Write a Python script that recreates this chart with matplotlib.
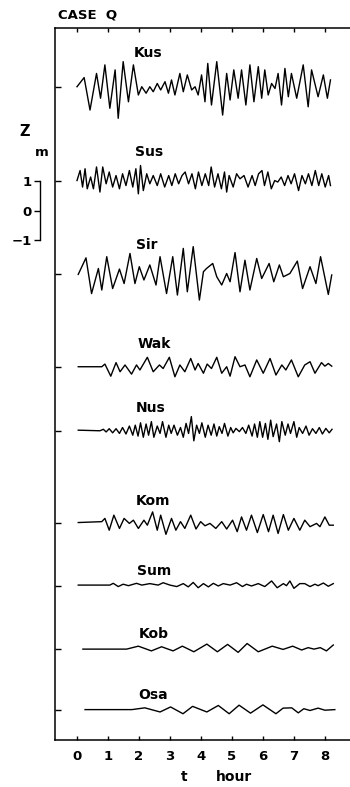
import numpy as np
import matplotlib
matplotlib.use("Agg")
import matplotlib.pyplot as plt

plt.rcParams['font.family'] = ['DejaVu Sans Condensed', 'Liberation Sans Narrow', 'DejaVu Sans']
plt.rcParams['font.weight'] = 'bold'

# ---------------- data (hours, metres) ----------------
stations = ["Kus", "Sus", "Sir", "Wak", "Nus", "Kom", "Sum", "Kob", "Osa"]
baselines = [4.20, 1.00, -2.14, -5.29, -7.46, -10.58, -12.71, -14.85, -16.90]
label_t = [2.29, 2.32, 2.26, 2.50, 2.39, 2.45, 2.48, 2.48, 2.45]
label_z = [5.35, 2.00, -1.15, -4.50, -6.68, -9.83, -12.20, -14.34, -16.40]

kus_t = [0.00,0.23,0.42,0.63,0.76,0.90,1.06,1.23,1.33,1.49,1.66,1.82,1.98,2.09,2.23,2.35,2.46,2.59,2.70,2.84,
         2.95,3.05,3.16,3.32,3.43,3.56,3.70,3.81,3.91,4.02,4.13,4.22,4.34,4.51,4.70,4.83,4.94,5.06,5.20,5.31,
         5.45,5.58,5.71,5.85,5.96,6.06,6.17,6.28,6.39,6.49,6.60,6.71,6.82,6.92,7.09,7.30,7.46,7.57,7.78,7.95,
         8.08,8.18]
kus_z = [0.01,0.32,-0.78,0.46,-0.38,0.75,-0.72,0.58,-1.06,0.86,-0.50,0.75,-0.27,0.01,-0.21,0.01,-0.16,0.12,-0.10,0.18,
         -0.21,0.24,-0.27,0.46,-0.16,0.41,-0.10,0.01,-0.27,0.41,-0.50,0.80,-0.61,0.86,-0.95,0.46,-0.44,0.58,-0.38,0.58,
         -0.61,0.75,-0.50,0.69,-0.38,0.58,-0.27,0.12,-0.05,0.46,-0.61,0.63,-0.33,0.46,-0.38,0.75,-0.67,0.58,-0.33,0.41,
         -0.38,0.24]

sus_t = [0.00,0.10,0.18,0.26,0.33,0.44,0.53,0.63,0.74,0.83,0.94,1.04,1.15,1.26,1.37,1.47,1.58,1.69,1.80,1.90,
         1.98,2.05,2.14,2.25,2.35,2.46,2.59,2.70,2.83,2.96,3.06,3.17,3.28,3.39,3.49,3.60,3.71,3.82,3.92,4.03,
         4.14,4.25,4.33,4.44,4.55,4.66,4.76,4.83,4.91,5.04,5.15,5.26,5.39,5.52,5.65,5.75,5.86,5.97,6.05,6.16,
         6.27,6.38,6.48,6.59,6.70,6.81,6.91,7.02,7.15,7.26,7.37,7.47,7.58,7.69,7.80,7.90,8.01,8.12,8.18]
sus_z = [0.03,0.37,-0.19,0.43,-0.25,0.15,-0.25,0.49,-0.36,0.49,-0.08,0.32,-0.19,0.20,-0.25,0.26,-0.14,0.37,-0.19,0.43,
         -0.42,0.54,-0.31,0.26,-0.08,0.20,-0.14,0.26,-0.19,0.20,-0.14,0.26,-0.08,0.20,0.32,-0.08,0.26,-0.25,0.32,-0.14,
         0.26,-0.14,0.49,-0.19,0.26,-0.25,0.32,-0.36,0.20,-0.19,0.26,0.09,0.20,-0.19,0.20,-0.14,0.26,0.37,-0.14,0.32,
         -0.25,0.03,-0.02,0.15,-0.14,0.20,-0.08,0.26,-0.31,0.20,-0.08,0.26,-0.14,0.37,-0.14,0.26,-0.19,0.20,-0.14]

sir_t = [0.04,0.29,0.47,0.69,0.80,0.96,1.15,1.37,1.52,1.71,1.87,2.01,2.16,2.35,2.55,2.68,2.89,3.09,3.24,3.43,
         3.56,3.75,3.95,4.08,4.18,4.38,4.51,4.67,4.83,4.94,5.10,5.26,5.42,5.58,5.80,5.96,6.20,6.35,6.53,6.66,
         6.87,7.11,7.28,7.52,7.71,7.86,8.11,8.22]
sir_z = [-0.01,0.55,-0.66,0.19,-0.54,0.59,-0.49,0.17,-0.32,0.70,-0.32,0.25,-0.20,0.31,-0.37,0.59,-0.66,0.59,-0.71,0.87,
         -0.60,0.93,-0.88,0.08,0.19,0.36,-0.09,-0.37,0.02,-0.26,0.73,-0.60,0.47,-0.54,0.53,-0.15,0.36,-0.26,0.31,-0.09,
         0.02,0.44,-0.49,0.25,-0.32,0.59,-0.69,-0.03]

wak_t = [0.04,0.80,0.90,1.09,1.26,1.39,1.55,1.76,1.92,2.03,2.27,2.46,2.66,2.78,2.98,3.16,3.32,3.48,3.67,3.81,
         3.91,4.08,4.20,4.34,4.51,4.67,4.83,4.94,5.10,5.26,5.42,5.58,5.80,6.01,6.23,6.42,6.61,6.74,6.92,7.14,
         7.35,7.52,7.68,7.89,8.00,8.11,8.22]
wak_z = [0.01,0.01,0.10,-0.31,0.15,-0.16,0.07,-0.24,0.07,-0.10,0.33,-0.16,0.07,-0.05,0.33,-0.33,0.07,-0.16,0.29,-0.10,
         0.12,-0.21,0.10,-0.05,0.33,-0.21,0.01,-0.31,0.35,0.01,0.07,-0.33,0.24,-0.21,0.29,-0.27,0.07,-0.10,0.24,-0.33,
         0.07,0.18,-0.21,0.15,0.03,0.12,0.03]

nus_t = [0.04,0.74,0.85,0.94,1.04,1.15,1.26,1.37,1.47,1.58,1.69,1.80,1.88,1.97,2.05,2.14,2.23,2.31,2.40,2.48,
         2.59,2.68,2.76,2.87,2.96,3.04,3.13,3.24,3.34,3.43,3.52,3.60,3.69,3.77,3.86,3.95,4.03,4.14,4.23,4.33,
         4.42,4.51,4.59,4.68,4.76,4.87,4.96,5.04,5.13,5.24,5.34,5.45,5.54,5.65,5.73,5.82,5.90,5.99,6.08,6.16,
         6.25,6.33,6.44,6.53,6.61,6.72,6.81,6.89,7.00,7.09,7.17,7.28,7.39,7.49,7.60,7.71,7.82,7.92,8.03,8.14,
         8.23]
nus_z = [0.03,0.01,0.06,-0.03,0.08,-0.06,0.08,-0.08,0.12,-0.10,0.17,-0.14,0.20,-0.17,0.28,-0.21,0.24,-0.14,0.32,-0.21,
         0.17,-0.08,0.32,-0.21,0.20,-0.08,0.20,-0.14,0.12,-0.21,0.26,-0.08,0.49,-0.33,0.20,-0.08,0.28,-0.21,0.20,-0.14,
         0.24,-0.17,0.15,-0.08,0.26,-0.17,0.12,-0.06,0.09,-0.02,0.12,-0.08,0.20,-0.17,0.24,-0.21,0.32,-0.21,0.26,-0.28,
         0.37,-0.19,0.24,-0.36,0.32,-0.14,0.24,-0.08,0.32,-0.21,0.12,-0.08,0.17,-0.14,0.08,-0.08,0.12,-0.10,0.09,-0.06,
         0.06]

kom_t = [0.04,0.80,0.90,1.04,1.19,1.37,1.52,1.69,1.82,1.98,2.16,2.27,2.44,2.59,2.70,2.87,3.05,3.19,3.34,3.48,
         3.67,3.84,3.99,4.13,4.29,4.48,4.67,4.83,5.02,5.17,5.31,5.47,5.63,5.82,6.01,6.18,6.33,6.49,6.66,6.82,
         7.00,7.19,7.35,7.52,7.73,7.84,8.00,8.14,8.27]
kom_z = [0.02,0.05,0.16,-0.24,0.27,-0.18,0.16,-0.01,0.10,-0.18,0.10,-0.07,0.38,-0.24,0.27,-0.38,0.16,-0.24,0.05,-0.18,
         0.27,-0.20,0.05,-0.09,-0.01,-0.18,0.05,-0.20,0.10,-0.29,0.21,-0.24,0.27,-0.32,0.29,-0.29,0.27,-0.35,0.29,-0.24,
         0.16,-0.24,0.10,-0.12,-0.01,-0.12,0.21,-0.07,-0.07]

sum_t = [0.04,1.06,1.17,1.33,1.49,1.66,1.92,2.09,2.35,2.62,2.78,3.00,3.22,3.43,3.59,3.75,3.91,4.08,4.24,4.40,
         4.56,4.72,4.94,5.15,5.34,5.47,5.63,5.85,6.06,6.28,6.46,6.66,6.76,6.87,7.00,7.19,7.35,7.52,7.68,7.78,
         7.95,8.11,8.27]
sum_z = [0.03,0.03,0.09,-0.02,0.06,0.01,0.09,0.03,0.08,0.03,0.11,0.03,-0.02,0.08,-0.03,0.12,-0.06,0.08,-0.03,0.09,
         0.00,0.08,0.03,0.11,-0.02,0.06,0.00,0.08,-0.02,0.17,-0.06,0.08,0.01,0.17,-0.08,0.08,0.08,-0.02,0.06,0.01,
         0.10,-0.01,0.08]

kob_t = [0.19,1.60,1.98,2.40,2.73,3.10,3.40,3.77,4.19,4.53,4.86,5.20,5.49,5.85,6.30,6.65,6.96,7.25,7.46,7.65,
         7.85,8.05,8.27]
kob_z = [0.00,0.00,0.10,-0.06,0.08,-0.06,0.10,-0.09,0.17,-0.09,0.16,-0.11,0.19,-0.09,0.10,-0.01,0.10,-0.03,0.05,0.00,
         0.05,-0.06,0.14]

osa_t = [0.26,1.77,2.19,2.68,3.02,3.42,3.73,4.19,4.56,4.91,5.23,5.60,6.00,6.42,6.65,6.93,7.14,7.32,7.52,7.78,
         8.00,8.32]
osa_z = [0.00,0.00,0.06,-0.08,0.09,-0.14,0.11,-0.08,0.14,-0.14,0.15,-0.12,0.16,-0.14,0.05,0.06,-0.11,0.03,-0.03,0.05,
         -0.02,0.00]

series_t = [kus_t, sus_t, sir_t, wak_t, nus_t, kom_t, sum_t, kob_t, osa_t]
series_z = [kus_z, sus_z, sir_z, wak_z, nus_z, kom_z, sum_z, kob_z, osa_z]

hour_ticks = [0, 1, 2, 3, 4, 5, 6, 7, 8]
scale_ticks = [1, 0, -1]
scale_labels = ["1", "0", "\u22121"]

# ---------------- figure ----------------
W, H = 350, 787
fig = plt.figure(figsize=(W / 100, H / 100), dpi=100)
fig.patch.set_facecolor("white")

ax_l, ax_r, ax_top, ax_bot = 55, 350, 28, 740
ax = fig.add_axes([ax_l / W, 1 - ax_bot / H, (ax_r - ax_l) / W, (ax_bot - ax_top) / H])
ax.set_xlim(-0.71, 8.81)
ax.set_ylim(-17.93, 6.20)

for t, z, b in zip(series_t, series_z, baselines):
    ax.plot(t, np.asarray(z) + b, color="black", lw=1.0, solid_joinstyle="round")

for name, lt, lz in zip(stations, label_t, label_z):
    ax.text(lt, lz, name, ha="center", va="center", fontsize=10, fontweight="bold")

ax.spines["right"].set_visible(False)
for s in ["left", "top", "bottom"]:
    ax.spines[s].set_linewidth(1.1)

ax.set_xticks(hour_ticks)
ax.set_xticklabels([str(h) for h in hour_ticks], fontsize=9.5, fontweight="bold")
ax.tick_params(axis="x", direction="in", length=3, width=1, top=True, bottom=True, pad=7)
ax.set_yticks(baselines)
ax.set_yticklabels([])
ax.tick_params(axis="y", direction="in", length=4, width=1, left=True, right=False)

# scale bar (metres)
sb = fig.add_axes([39.5 / W, 1 - ax_bot / H, 0.0001, (ax_bot - ax_top) / H])
sb.set_ylim(ax.get_ylim())
sb.set_xticks([])
for s in ["right", "top", "bottom"]:
    sb.spines[s].set_visible(False)
sb.spines["left"].set_bounds(-1, 1)
sb.spines["left"].set_linewidth(1.0)
sb.set_yticks(scale_ticks)
sb.set_yticklabels(scale_labels, fontsize=9.5, fontweight="bold")
sb.tick_params(axis="y", direction="out", length=4, width=1, pad=1.5)
sb.patch.set_visible(False)

fig.text(25 / W, 1 - 132 / H, "Z", ha="center", va="center", fontsize=10.5, fontweight="bold")
fig.text(42 / W, 1 - 153 / H, "m", ha="center", va="center", fontsize=9.5, fontweight="bold")

fig.text(58 / W, 1 - 15 / H, "CASE  Q", ha="left", va="center", fontsize=9.5, fontweight="bold")
fig.text(184 / W, 1 - 777 / H, "t", ha="center", va="center", fontsize=10, fontweight="bold")
fig.text(234 / W, 1 - 777 / H, "hour", ha="center", va="center", fontsize=10, fontweight="bold")

fig.savefig("out.png", dpi=100, facecolor="white")
